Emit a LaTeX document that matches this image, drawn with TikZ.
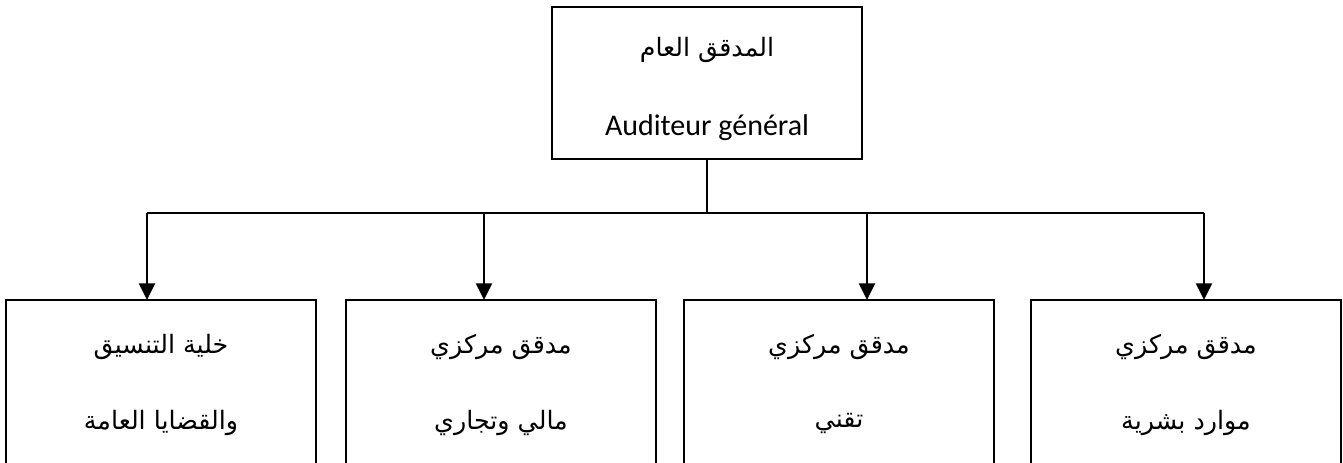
\documentclass[tikz,border=0pt]{standalone}
\usepackage{fontspec}
\setmainfont{Carlito}
\newfontfamily\arabicfont[Script=Arabic]{DejaVu Sans}
\TeXXeTstate=1
\usetikzlibrary{arrows.meta}
\begin{document}
\begin{tikzpicture}[x=0.75pt,y=-0.75pt,
  boxnode/.style={draw,line width=1.5pt,rectangle,minimum width=310*0.75pt,inner sep=0pt,outer sep=0pt,anchor=north west},
  ar/.style={font=\arabicfont\fontsize{19}{22}\selectfont},
  lat/.style={font=\fontsize{22.5}{26}\selectfont},
  link/.style={line width=1.5pt},
  arrowlink/.style={line width=1.5pt,-{Triangle[length=12.5pt,width=12pt]}}]
\useasboundingbox (0,0) rectangle (1343,463);
\clip (0,0) rectangle (1343,463);
% head of the chart
\node[boxnode,minimum height=152*0.75pt] (top) at (552,7) {};
\node[ar] (topar) at (707,50) {\beginR المدقق العام\endR};
\node[lat] (toplat) at (707,128) {Auditeur général};
% the four units
\node[boxnode,minimum height=200*0.75pt] (b1) at (6,300) {};
\node[boxnode,minimum height=200*0.75pt] (b2) at (346,300) {};
\node[boxnode,minimum height=200*0.75pt] (b3) at (684,300) {};
\node[boxnode,minimum height=200*0.75pt] (b4) at (1031,300) {};
\node[ar] (t1a) at (161,347) {\beginR خلية التنسيق\endR};
\node[ar] (t1b) at (161,423) {\beginR والقضايا العامة\endR};
\node[ar] (t2a) at (501,347) {\beginR مدقق مركزي\endR};
\node[ar] (t2b) at (501,423) {\beginR مالي وتجاري\endR};
\node[ar] (t3a) at (839,347) {\beginR مدقق مركزي\endR};
\node[ar] (t3b) at (839,423) {\beginR تقني\endR};
\node[ar] (t4a) at (1186,347) {\beginR مدقق مركزي\endR};
\node[ar] (t4b) at (1186,423) {\beginR موارد بشرية\endR};
% distribution bar
\coordinate (j1) at (147,213);
\coordinate (j2) at (484,213);
\coordinate (j3) at (867,213);
\coordinate (j4) at (1204,213);
\draw[link] (top.south) -- (top.south |- j1);
\draw[link] (j1) -- (j4);
\draw[arrowlink] (j1) -- (j1 |- b1.north);
\draw[arrowlink] (j2) -- (j2 |- b2.north);
\draw[arrowlink] (j3) -- (j3 |- b3.north);
\draw[arrowlink] (j4) -- (j4 |- b4.north);
\end{tikzpicture}
\end{document}
